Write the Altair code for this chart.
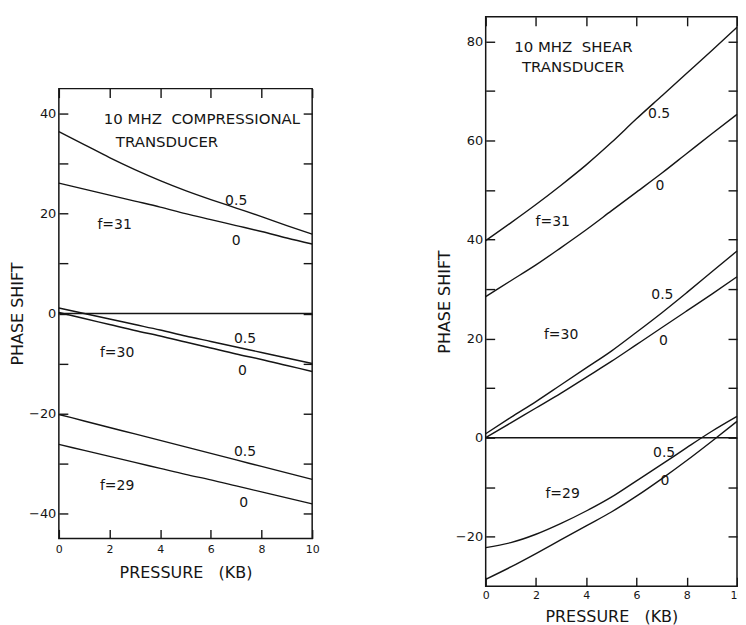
import altair as alt
import pandas as pd

# ---------------- data ----------------
P = [0, 1, 2, 3, 4, 5, 6, 7, 8, 9, 10]

# Left panel: 10 MHz compressional transducer
comp_f31_05 = [36.4, 33.8, 31.2, 28.8, 26.6, 24.6, 22.8, 21.1, 19.4, 17.6, 15.9]
comp_f31_0 = [26.1, 24.9, 23.7, 22.5, 21.3, 20.0, 18.8, 17.6, 16.4, 15.1, 13.9]
comp_f30_05 = [1.1, 0.0, -1.1, -2.2, -3.3, -4.5, -5.6, -6.7, -7.8, -8.9, -10.0]
comp_f30_0 = [0.2, -1.0, -2.2, -3.4, -4.5, -5.7, -6.9, -8.1, -9.2, -10.4, -11.6]
comp_f29_05 = [-20.2, -21.5, -22.8, -24.1, -25.4, -26.7, -28.0, -29.3, -30.6, -31.9, -33.2]
comp_f29_0 = [-26.2, -27.4, -28.6, -29.8, -31.0, -32.2, -33.3, -34.5, -35.7, -36.9, -38.1]

# Right panel: 10 MHz shear transducer
shear_f31_05 = [39.8, 43.4, 47.1, 51.0, 55.1, 59.6, 64.4, 69.0, 73.6, 78.2, 82.9]
shear_f31_0 = [28.5, 31.7, 34.9, 38.4, 42.0, 45.8, 49.6, 53.4, 57.4, 61.4, 65.3]
shear_f30_05 = [0.8, 4.1, 7.3, 10.7, 14.1, 17.5, 21.3, 25.2, 29.3, 33.5, 37.7]
shear_f30_0 = [0.0, 3.0, 6.0, 9.0, 12.2, 15.4, 18.8, 22.2, 25.6, 29.0, 32.5]
shear_f29_05 = [-22.2, -21.2, -19.5, -17.3, -14.8, -12.0, -8.7, -5.4, -2.0, 1.3, 4.3]
shear_f29_0 = [-28.6, -26.1, -23.4, -20.6, -17.8, -15.0, -11.8, -8.3, -4.6, -0.7, 3.3]

zero_line = [0]

comp_label_text = ["10 MHZ\u00a0\u00a0COMPRESSIONAL", "TRANSDUCER", "0.5", "0", "f=31",
                   "0.5", "0", "f=30", "0.5", "0", "f=29"]
comp_label_p = [5.65, 4.27, 7.0, 7.0, 2.2, 7.35, 7.25, 2.3, 7.35, 7.3, 2.3]
comp_label_v = [38.9, 34.4, 22.6, 14.5, 17.8, -5.1, -11.6, -8.0, -27.7, -38.0, -34.5]

shear_label_text = ["10 MHZ\u00a0\u00a0SHEAR", "TRANSDUCER", "0.5", "0", "f=31",
                    "0.5", "0", "f=30", "0.5", "0", "f=29"]
shear_label_p = [3.49, 3.48, 6.9, 6.93, 2.67, 7.03, 7.07, 3.0, 7.1, 7.13, 3.06]
shear_label_v = [79.0, 74.8, 65.3, 50.9, 43.5, 28.8, 19.6, 20.8, -3.0, -8.7, -11.4]

x_ticks = [0, 2, 4, 6, 8, 10]
comp_y_ticks = [-40, -30, -20, -10, 0, 10, 20, 30, 40]
shear_y_ticks = [-20, -10, 0, 10, 20, 30, 40, 50, 60, 70, 80]

FONT = "DejaVu Sans"
INK = "#151515"


def series_frame(curves):
    rows = []
    for name, vals in curves.items():
        for p, v in zip(P, vals):
            rows.append({"p": p, "v": v, "s": name})
    return pd.DataFrame(rows)


def panel(curves, ltext, lp, lv, ydom, yticks, w, h, ytitle_pad, xlab_pad, xtitle_pad):
    df = series_frame(curves)
    xs = alt.Scale(domain=[0, 10], nice=False, zero=False)
    ys = alt.Scale(domain=ydom, nice=False, zero=False)
    label_expr = "datum.value % 20 == 0 ? datum.label : ''"
    common = dict(domain=False, grid=False, tickSize=9, offset=-9, tickColor=INK,
                  tickWidth=1.4, labelFont=FONT, labelColor=INK, minExtent=0,
                  titleFont=FONT, titleFontSize=16, titleFontWeight="normal", titleColor=INK)
    x_bottom = alt.Axis(values=x_ticks, title="PRESSURE\u00a0\u00a0\u00a0(KB)", labelFlush=False,
                        labelFontSize=11, labelPadding=xlab_pad, titlePadding=xtitle_pad, **common)
    y_left = alt.Axis(values=yticks, title="PHASE SHIFT", labelExpr=label_expr,
                      labelFontSize=13, labelPadding=3, titlePadding=ytitle_pad, **common)
    x_top = alt.Axis(values=x_ticks, orient="top", labels=False, title=None, **common)
    y_right = alt.Axis(values=yticks, orient="right", labels=False, title=None, **common)

    lines = alt.Chart(df).mark_line(color=INK, strokeWidth=1.4, interpolate="monotone").encode(
        x=alt.X("p:Q", scale=xs, axis=x_bottom),
        y=alt.Y("v:Q", scale=ys, axis=y_left),
        detail="s:N",
    )
    mirror = alt.Chart(df).mark_line(opacity=0).encode(
        x=alt.X("p:Q", scale=xs, axis=x_top),
        y=alt.Y("v:Q", scale=ys, axis=y_right),
        detail="s:N",
    )
    zero = alt.Chart(pd.DataFrame({"v": zero_line})).mark_rule(color=INK, strokeWidth=1.4).encode(
        y=alt.Y("v:Q", scale=ys, axis=None)
    )
    lab = pd.DataFrame({"t": ltext, "p": lp, "v": lv})
    big = lab.iloc[:2]
    small = lab.iloc[2:]
    big_text = alt.Chart(big).mark_text(font=FONT, fontSize=15, color=INK).encode(
        x=alt.X("p:Q", scale=xs, axis=None), y=alt.Y("v:Q", scale=ys, axis=None), text="t:N"
    )
    small_text = alt.Chart(small).mark_text(font=FONT, fontSize=14, color=INK).encode(
        x=alt.X("p:Q", scale=xs, axis=None), y=alt.Y("v:Q", scale=ys, axis=None), text="t:N"
    )
    return alt.layer(lines, mirror, zero, big_text, small_text).resolve_axis(
        x="independent", y="independent"
    ).properties(width=w, height=h)


left = panel(
    {"31_05": comp_f31_05, "31_0": comp_f31_0, "30_05": comp_f30_05, "30_0": comp_f30_0,
     "29_05": comp_f29_05, "29_0": comp_f29_0},
    comp_label_text, comp_label_p, comp_label_v, [-45, 45], comp_y_ticks, 254, 451, 3, 5, 10,
)

right = panel(
    {"31_05": shear_f31_05, "31_0": shear_f31_0, "30_05": shear_f30_05, "30_0": shear_f30_0,
     "29_05": shear_f29_05, "29_0": shear_f29_0},
    shear_label_text, shear_label_p, shear_label_v, [-30, 85], shear_y_ticks, 252, 571, 3, 3, 8,
)

# invisible spacer that drops the left panel below the top of the right one
spacer = alt.Chart(pd.DataFrame({"a": [0]})).mark_point(opacity=0).encode(
    x=alt.X("a:Q", axis=None), y=alt.Y("a:Q", axis=None)
).properties(width=254, height=69, view=alt.ViewBackground(stroke="transparent"))

left_col = alt.vconcat(spacer, left, spacing=0)

chart = alt.hconcat(left_col, right, spacing=115).properties(
    padding={"left": 0, "top": 6, "right": -7, "bottom": 0}
).configure_view(stroke=INK, strokeWidth=1.5)

chart.save("out.html", embed_options={"renderer": "svg", "actions": False})
